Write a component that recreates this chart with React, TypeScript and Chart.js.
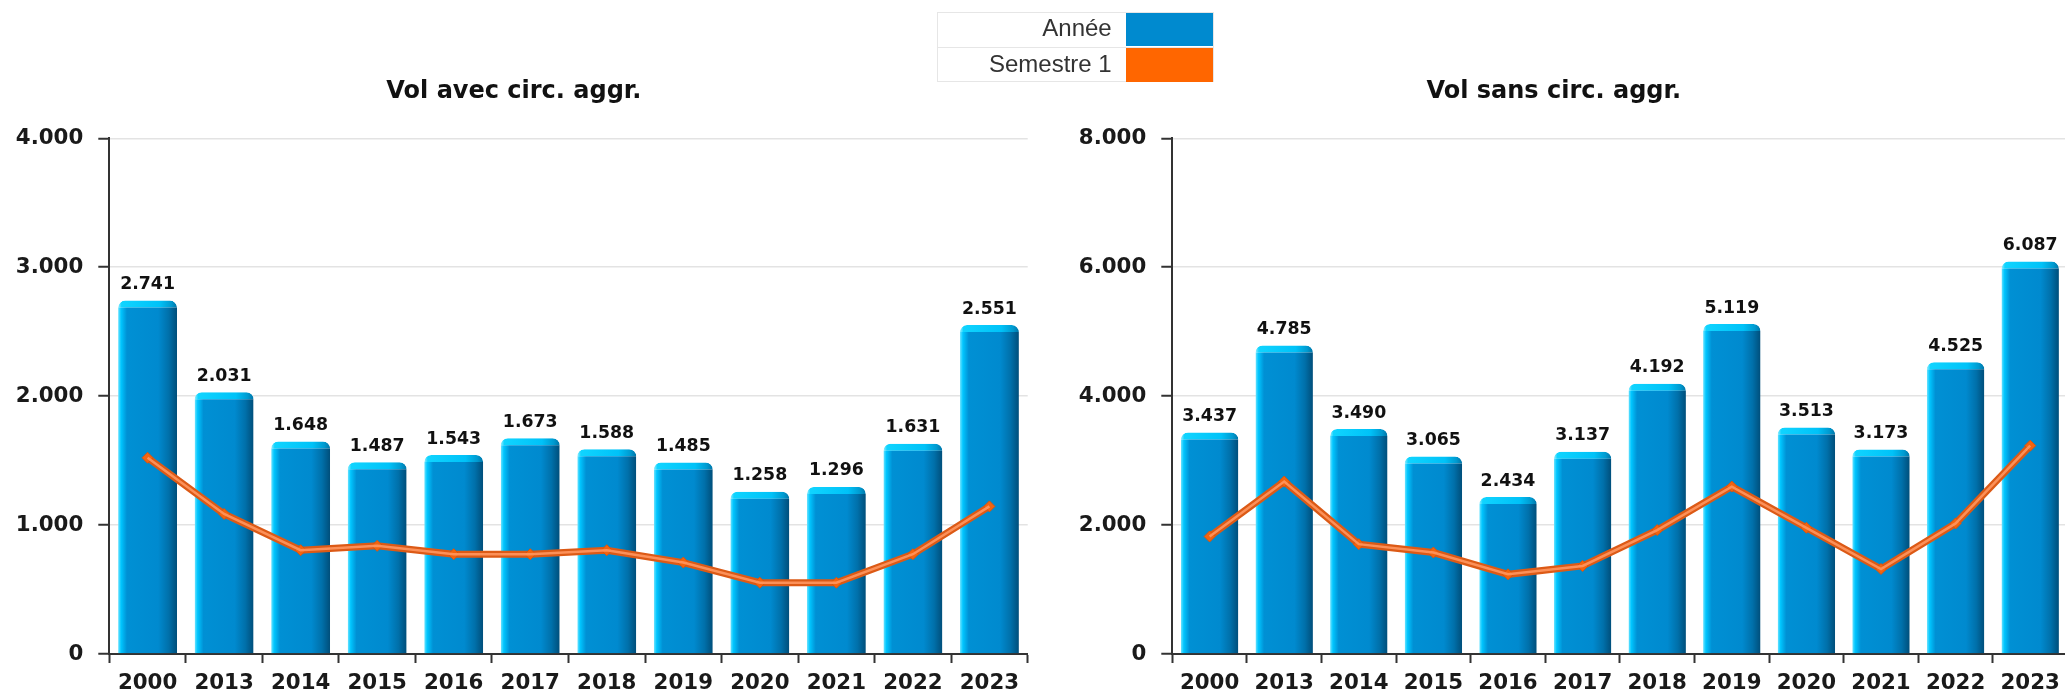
import React, { useEffect, useRef } from 'react';
import { Chart, registerables } from 'chart.js';
Chart.register(...registerables);

const years = ['2000', '2013', '2014', '2015', '2016', '2017', '2018', '2019', '2020', '2021', '2022', '2023'];
const avecAnnee = [2741, 2031, 1648, 1487, 1543, 1673, 1588, 1485, 1258, 1296, 1631, 2551];
const avecSem1 = [1522, 1086, 805, 839, 774, 774, 805, 709, 553, 553, 774, 1145];
const sansAnnee = [3437, 4785, 3490, 3065, 2434, 3137, 4192, 5119, 3513, 3173, 4525, 6087];
const sansSem1 = [1823, 2675, 1704, 1574, 1236, 1366, 1922, 2597, 1958, 1319, 2026, 3231];
const seriesLabels = ['Année', 'Semestre 1'];
const seriesColors = ['#008ACF', '#FF6600'];
const chartTitles = ['Vol avec circ. aggr.', 'Vol sans circ. aggr.'];
const avecAxis = { max: 4000, step: 1000 };
const sansAxis = { max: 8000, step: 2000 };

const BAR_PCT = 0.77;
const FONT = '"DejaVu Sans", sans-serif';

const fmt = (v: number) => String(Math.round(v)).replace(/\B(?=(\d{3})+(?!\d))/g, '.');

const barStops: [number, string][] = [
  [0, '#6fe4ff'], [0.05, '#00c6ff'], [0.15, '#0090d4'], [0.68, '#008acf'], [0.86, '#0070aa'], [1, '#004e7a'],
];
const capStops: [number, string][] = [
  [0, '#9aefff'], [0.06, '#10d4ff'], [0.7, '#00c2f8'], [0.9, '#009ad0'], [1, '#0075a8'],
];

function makeGrad(ctx: any, stops: [number, string][], fallback: string) {
  const chart = ctx.chart;
  const xs = chart.scales && chart.scales.x;
  if (!xs || !chart.chartArea || ctx.type !== 'data') return fallback;
  const n = years.length;
  const cw = xs.width / n;
  const c = xs.getPixelForValue(ctx.dataIndex);
  const w = cw * BAR_PCT;
  const x0 = c - w / 2;
  const x1 = c + w / 2;
  if (!isFinite(x0) || !isFinite(x1) || !(w > 0)) return fallback;
  const g = chart.ctx.createLinearGradient(x0, 0, x1, 0);
  stops.forEach(([o, col]) => g.addColorStop(o, col));
  return g;
}

const valueLabels = {
  id: 'valueLabels',
  afterDatasetsDraw(chart: any) {
    const meta = chart.getDatasetMeta(0);
    const ds = chart.data.datasets[0];
    const ctx = chart.ctx;
    ctx.save();
    ctx.font = `bold 17.33px ${FONT}`;
    ctx.fillStyle = '#111';
    ctx.textAlign = 'center';
    ctx.textBaseline = 'alphabetic';
    meta.data.forEach((el: any, i: number) => {
      ctx.fillText(fmt(ds.data[i]), el.x, el.y - 11.5);
    });
    ctx.restore();
  },
};

type PanelProps = {
  left: number;
  width: number;
  title: string;
  bars: number[];
  line: number[];
  axis: { max: number; step: number };
  yWidth: number;
  padRight: number;
};

function Panel({ left, width, title, bars, line, axis, yWidth, padRight }: PanelProps) {
  const ref = useRef<HTMLCanvasElement>(null);
  useEffect(() => {
    if (!ref.current) return;
    const chart = new Chart(ref.current, {
      type: 'bar',
      data: {
        labels: years,
        datasets: [
          {
            type: 'bar',
            label: seriesLabels[0],
            data: bars,
            backgroundColor: (c: any) => makeGrad(c, barStops, seriesColors[0]),
            borderColor: (c: any) => makeGrad(c, capStops, '#00c2f8'),
            borderWidth: { top: 7, left: 0, right: 0, bottom: 0 },
            borderRadius: { topLeft: 7, topRight: 7, bottomLeft: 0, bottomRight: 0 },
            borderSkipped: false,
            categoryPercentage: 1,
            barPercentage: BAR_PCT,
            order: 3,
          } as any,
          {
            type: 'line',
            label: seriesLabels[1],
            data: line,
            borderColor: '#dc5a16',
            borderWidth: 7,
            pointStyle: 'rectRot',
            pointRadius: 5.5,
            pointBackgroundColor: '#f26410',
            pointBorderColor: '#d8540f',
            pointBorderWidth: 1,
            tension: 0,
            order: 1,
          } as any,
          {
            type: 'line',
            label: seriesLabels[1] + ' highlight',
            data: line,
            borderColor: 'rgba(255,150,95,0.9)',
            borderWidth: 2.5,
            pointRadius: 0,
            tension: 0,
            order: 0,
          } as any,
        ],
      },
      options: {
        responsive: false,
        animation: false,
        events: [],
        layout: { padding: { left: 0, right: padRight, top: 0, bottom: 0 } },
        plugins: {
          legend: { display: false },
          tooltip: { enabled: false },
          title: {
            display: true,
            text: title,
            color: '#111',
            font: { family: FONT, size: 24, weight: 'bold', lineHeight: 1.2 },
            padding: { top: 77.6, bottom: 31.9 },
          },
        },
        scales: {
          x: {
            grid: {
              display: true,
              drawOnChartArea: false,
              drawTicks: true,
              tickLength: 9,
              tickColor: '#333',
              tickWidth: 2,
              offset: true,
            },
            border: { display: true, color: '#333', width: 2 },
            ticks: {
              color: '#1a1a1a',
              font: { family: FONT, size: 21.33, weight: 'bold' },
              padding: 8,
              maxRotation: 0,
              autoSkip: false,
            },
            afterFit: (s: any) => {
              s.height = 691 - 654;
            },
          },
          y: {
            min: 0,
            max: axis.max,
            ticks: {
              stepSize: axis.step,
              callback: (v: any) => fmt(Number(v)),
              color: '#1a1a1a',
              font: { family: FONT, size: 21.33, weight: 'bold' },
              padding: 15,
            },
            grid: {
              color: '#e3e3e3',
              lineWidth: 1.5,
              tickLength: 11,
              tickColor: '#333',
              tickWidth: 2,
            },
            border: { display: true, color: '#333', width: 2 },
            afterFit: (s: any) => {
              s.width = yWidth;
            },
          },
        },
      } as any,
      plugins: [valueLabels],
    });
    return () => chart.destroy();
  }, []);
  return (
    <canvas
      ref={ref}
      width={width}
      height={691}
      style={{ position: 'absolute', left, top: 0, width, height: 691 }}
    />
  );
}

function Legend() {
  const rowH = 34.65;
  return (
    <div
      style={{
        position: 'absolute',
        left: 936.7,
        top: 11.7,
        width: 277,
        height: 70,
        boxSizing: 'border-box',
        border: '1px solid #e6e6e6',
        background: '#fff',
        fontFamily: '"Liberation Sans", Arial, sans-serif',
        fontSize: 24,
        color: '#333',
      }}
    >
      {seriesLabels.map((lab, i) => (
        <div
          key={lab}
          style={{
            position: 'absolute',
            left: 0,
            top: i * rowH,
            width: 275,
            height: rowH,
            borderTop: i > 0 ? '1px solid #e6e6e6' : 'none',
            boxSizing: 'border-box',
          }}
        >
          <div
            style={{
              position: 'absolute',
              left: 0,
              top: -1.5,
              width: 188,
              height: rowH,
              lineHeight: rowH + 'px',
              textAlign: 'right',
              paddingRight: 14,
              boxSizing: 'border-box',
              whiteSpace: 'nowrap',
            }}
          >
            {lab}
          </div>
          <div
            style={{
              position: 'absolute',
              left: 188,
              top: 0,
              width: 87,
              height: rowH - 1,
              background: seriesColors[i],
            }}
          />
        </div>
      ))}
    </div>
  );
}

export default function App() {
  return (
    <div
      style={{
        position: 'absolute',
        left: 0,
        top: 0,
        width: 2065,
        height: 691,
        overflow: 'hidden',
        background: '#fff',
      }}
    >
      <Panel left={0} width={1040} title={chartTitles[0]} bars={avecAnnee} line={avecSem1} axis={avecAxis} yWidth={109.3} padRight={12.3} />
      <Panel left={1040} width={1052} title={chartTitles[1]} bars={sansAnnee} line={sansSem1} axis={sansAxis} yWidth={132.3} padRight={24.5} />
      <Legend />
    </div>
  );
}
